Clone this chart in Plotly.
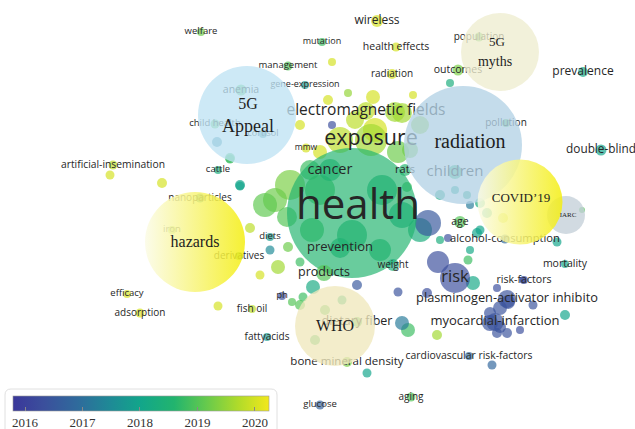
import plotly.graph_objects as go

# ---------------- keyword nodes (VOSviewer overlay map) ----------------
kw_labels = ["welfare", "mutation", "wireless", "health effects", "population", "management",
             "radiation", "outcomes", "prevalence", "gene-expression", "anemia",
             "electromagnetic fields", "child health", "cortisol", "pollution", "exposure", "mmw",
             "cancer", "rats", "children", "double-blind", "artificial-insemination", "cattle",
             "nanoparticles", "health", "age", "iron", "alcohol-consumption", "diets", "derivatives",
             "prevention", "mortality", "products", "weight", "risk", "risk-factors",
             "plasminogen-activator inhibito", "efficacy", "adsorption", "fish oil", "ph",
             "fattyacids", "dietary fiber", "myocardial-infarction", "bone mineral density",
             "cardiovascular risk-factors", "glucose", "aging"]
kw_x = [201, 322, 377, 396, 479, 288, 392, 458, 583, 305, 241, 366, 215, 263, 506, 371, 306,
        330, 405, 455, 601, 113, 218, 200, 358, 460, 172, 505, 270, 239, 340, 565, 324, 393,
        455, 524, 507, 127, 140, 252, 282, 267, 357, 495, 347, 469, 320, 411]
kw_y = [32, 42, 21, 47, 37, 66, 74, 70, 72, 85, 90, 111, 124, 134, 123, 140, 148, 170, 170,
        172, 150, 165, 170, 198, 208, 222, 230, 239, 237, 256, 248, 264, 273, 265, 278, 280,
        299, 294, 313, 309, 296, 337, 322, 322, 362, 356, 405, 397]
kw_node_x = [201, 322, 377, 396, 479, 288, 392, 458, 583, 305, 241, 366, 215, 263, 506, 371, 306,
             330, 405, 455, 601, 113, 218, 200, 352, 460, 172, 505, 270, 239, 340, 565, 324, 393,
             455, 524, 507, 127, 140, 252, 282, 267, 357, 495, 347, 469, 320, 411]
kw_node_y = [32, 42, 21, 47, 37, 66, 74, 70, 72, 85, 90, 111, 124, 134, 123, 140, 148, 170, 170,
             172, 150, 165, 170, 198, 213, 222, 230, 239, 237, 256, 248, 264, 273, 265, 278, 280,
             299, 294, 313, 309, 296, 337, 322, 322, 362, 356, 405, 397]
kw_size = [8, 8, 12, 9, 9, 9, 10, 11, 10, 8, 11, 18, 9, 8, 8, 32, 9, 22, 12, 14, 11, 9, 8,
           9, 130, 12, 8, 9, 8, 8, 20, 8, 16, 12, 30, 8, 18, 8, 9, 8, 8, 8, 10, 18, 10, 8, 9, 9]
kw_year = [2019.2, 2018.8, 2020.0, 2020.0, 2019.0, 2019.0, 2020.0, 2019.3, 2018.1, 2017.8,
           2018.9, 2019.8, 2019.0, 2017.4, 2019.0, 2019.6, 2020.0, 2018.4, 2018.6, 2018.5,
           2018.0, 2019.8, 2018.3, 2017.5, 2018.6, 2019.0, 2019.5, 2016.9, 2017.8, 2019.0,
           2018.5, 2018.0, 2019.0, 2018.3, 2016.3, 2016.3, 2016.4, 2020.0, 2020.0, 2019.8,
           2016.3, 2017.8, 2019.0, 2016.4, 2019.3, 2016.9, 2016.7, 2019.0]
kw_font = [9.5, 9, 12, 10.5, 10, 9.5, 10, 10.5, 12, 9, 10.5, 15.5, 9.5, 9, 10, 21.5, 8.5, 14.5,
           11, 15, 11.8, 10.3, 9.5, 10, 42, 10.5, 9.5, 11.2, 9.5, 10, 13, 10.5, 12.5, 10, 16.5,
           10.6, 12.8, 9.5, 10, 10, 9.5, 10, 12.5, 13, 11.5, 10.4, 9.5, 10]

# unlabeled items
ex_x = [332, 348, 328, 373, 413, 450, 332, 402, 300, 375, 395, 410, 355,
        340, 398, 420, 320,
        320, 382, 352, 402, 312, 380, 290, 275, 265, 287, 310, 420, 428,
        440, 455, 470, 440, 470, 480, 467, 487, 503, 407, 480, 582,
        438, 473, 468, 427, 497, 508, 500, 523, 533, 490, 500, 507, 520, 497, 490,
        565, 437, 408, 402, 492, 477, 557, 448,
        230, 240, 250, 270, 288, 278, 260, 300, 313, 303, 292, 218,
        110, 162, 217, 230, 240, 357, 398, 367, 300, 325, 315, 342]
ex_y = [62, 93, 100, 97, 95, 83, 125, 113, 125, 130, 112, 150, 120,
        140, 152, 125, 152,
        190, 190, 235, 215, 230, 250, 185, 200, 205, 217, 170, 230, 223,
        195, 190, 205, 240, 250, 230, 195, 213, 218, 187, 203, 210,
        262, 283, 260, 293, 288, 302, 308, 280, 305, 313, 327, 333, 330, 333, 323,
        315, 335, 330, 323, 365, 233, 242, 238,
        158, 185, 228, 250, 247, 267, 275, 262, 287, 297, 302, 306,
        175, 183, 142, 159, 186, 285, 292, 373, 305, 310, 340, 300]
ex_size = [8, 8, 10, 14, 8, 8, 8, 20, 10, 24, 20, 16, 18,
           26, 22, 18, 14,
           30, 30, 30, 26, 24, 22, 30, 24, 24, 20, 20, 24, 26,
           10, 8, 8, 8, 8, 9, 8, 10, 10, 10, 10, 6,
           22, 14, 9, 10, 8, 14, 14, 7, 9, 12, 12, 10, 8, 10, 16,
           10, 10, 14, 14, 9, 10, 9, 8,
           10, 10, 10, 9, 10, 14, 9, 9, 14, 9, 8, 9,
           9, 10, 10, 9, 9, 10, 9, 9, 10, 10, 10, 9]
ex_year = [2020.0, 2019.5, 2020.0, 2020.0, 2020.0, 2018.3, 2016.3, 2019.6, 2020.0, 2020.0, 2019.6, 2019.3, 2019.8,
           2019.8, 2019.2, 2019.5, 2020.0,
           2018.8, 2018.3, 2018.4, 2018.2, 2018.8, 2018.5, 2019.3, 2019.2, 2019.1, 2019.0, 2018.8, 2018.3, 2016.5,
           2018.2, 2018.0, 2017.2, 2018.3, 2018.1, 2018.0, 2018.2, 2018.0, 2020.0, 2018.8, 2018.3, 2019.0,
           2016.3, 2018.1, 2018.8, 2016.3, 2016.3, 2016.4, 2016.4, 2016.0, 2016.4, 2016.4, 2016.4, 2016.4, 2016.3, 2016.4, 2016.4,
           2018.0, 2019.6, 2018.8, 2017.2, 2016.8, 2018.0, 2018.0, 2016.3,
           2018.8, 2018.0, 2019.8, 2017.5, 2019.2, 2019.6, 2020.0, 2018.8, 2018.2, 2018.8, 2019.0, 2020.0,
           2020.0, 2020.0, 2017.3, 2018.8, 2018.0, 2016.5, 2016.4, 2018.0, 2019.0, 2019.0, 2018.8, 2018.5]

# overlay annotation circles drawn by the authors
ov_x = [247, 463, 500, 335, 566]
ov_y = [115, 145, 52, 326, 215]
ov_size = [98, 118, 78, 80, 38]
ov_color = ["#bfe3f4", "#b4d2e6", "#eeedcf", "#efe8bd", "#c4d0d8"]
gr_x = [195, 520]
gr_y = [242, 202]
gr_size = [100, 85]

# serif texts
st_text = ["5G", "Appeal", "5G", "myths", "radiation", "COVID\u201919", "IARC", "hazards", "WHO"]
st_x = [248, 248, 497, 495, 470, 521, 568, 195, 335]
st_y = [105, 127, 43, 62, 143, 199, 215, 243, 327]
st_font = [16, 18, 13, 14, 20, 13, 7, 16, 16]

# colour bar
cb_min, cb_max = 2015.79, 2020.245
cb_ticks = [2016, 2017, 2018, 2019, 2020]

node_scale = [[0.0, "#3a379a"], [0.12, "#3b4f9c"], [0.25, "#2f6a9c"], [0.38, "#1e8a96"],
              [0.5, "#12a68a"], [0.63, "#22b46e"], [0.75, "#63c94e"], [0.88, "#b0db2a"],
              [1.0, "#f2e81c"]]

fig = go.Figure()

fig.add_trace(go.Scatter(
    x=ex_x, y=ex_y, mode="markers", hoverinfo="skip",
    marker=dict(size=ex_size, sizemode="diameter", color=ex_year, colorscale=node_scale,
                cmin=cb_min, cmax=cb_max, opacity=0.68, line=dict(width=0))))

fig.add_trace(go.Scatter(
    x=kw_node_x, y=kw_node_y, mode="markers", hoverinfo="skip",
    marker=dict(size=kw_size, sizemode="diameter", color=kw_year, colorscale=node_scale,
                cmin=cb_min, cmax=cb_max, opacity=0.68, line=dict(width=0),
                showscale=True,
                colorbar=dict(orientation="h", x=13 / 635, xanchor="left", xpad=0,
                              y=1 - 396 / 429, yanchor="top", ypad=0,
                              lenmode="pixels", len=256, thickness=15,
                              outlinewidth=0.6, outlinecolor="#999",
                              tickvals=cb_ticks, ticks="inside", ticklen=4,
                              tickcolor="#888",
                              tickfont=dict(family="Liberation Serif", size=13, color="#333")))))

fig.add_trace(go.Scatter(
    x=kw_x, y=kw_y, mode="text", text=kw_labels, hoverinfo="skip",
    textposition="middle center",
    textfont=dict(family="Open Sans", size=kw_font, color="#262626")))

fig.add_trace(go.Scatter(
    x=ov_x, y=ov_y, mode="markers", hoverinfo="skip",
    marker=dict(size=ov_size, sizemode="diameter", color=ov_color, opacity=0.78,
                line=dict(width=0))))

fig.add_trace(go.Scatter(
    x=gr_x, y=gr_y, mode="markers", hoverinfo="skip",
    marker=dict(size=gr_size, sizemode="diameter", color="#fbfbe6", opacity=0.85,
                gradient=dict(type="horizontal", color="#f4ee10"),
                line=dict(width=0))))

fig.add_trace(go.Scatter(
    x=st_x, y=st_y, mode="text", text=st_text, hoverinfo="skip",
    textposition="middle center",
    textfont=dict(family="Liberation Serif", size=st_font, color="#1e1e1e")))

# rounded frame round the colour bar
fig.add_shape(type="path",
              path="M 11 389 L 271 389 Q 277 389 277 395 L 277 440 L 5 440 L 5 395 Q 5 389 11 389 Z",
              line=dict(color="#e0e0e0", width=1), fillcolor="rgba(0,0,0,0)", layer="below")

fig.update_layout(
    width=635, height=429, margin=dict(l=0, r=0, t=0, b=0, autoexpand=False),
    paper_bgcolor="white", plot_bgcolor="white", showlegend=False,
    xaxis=dict(range=[0, 635], visible=False, fixedrange=True),
    yaxis=dict(range=[429, 0], visible=False, fixedrange=True),
)

fig.write_html("out.html")
